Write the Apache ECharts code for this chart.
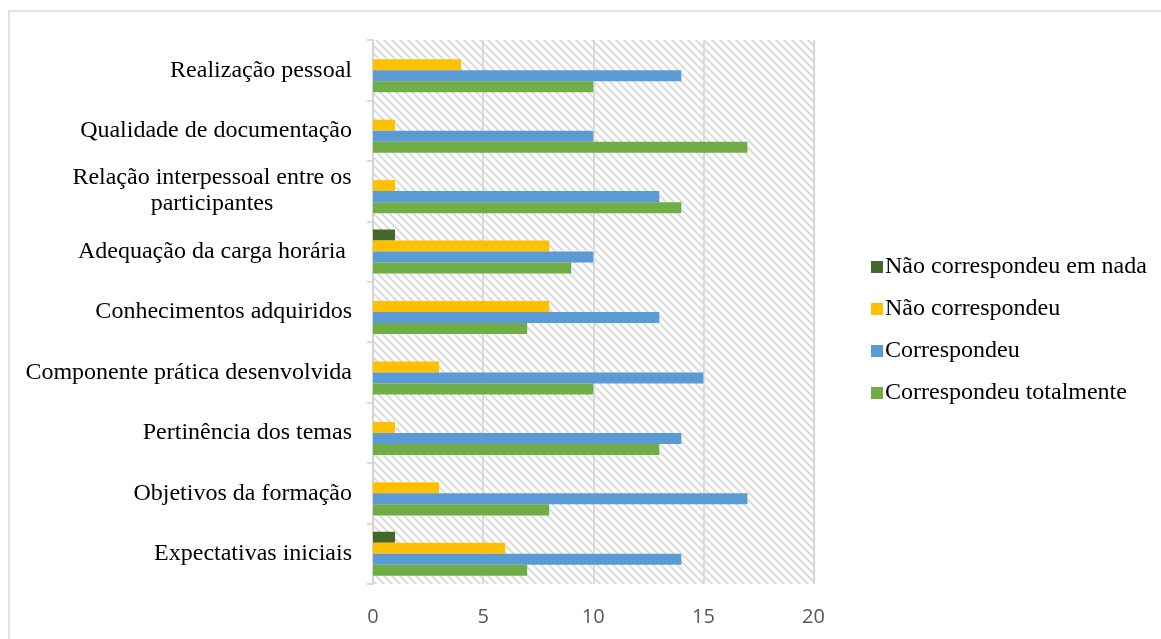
<!DOCTYPE html>
<html>
<head>
<meta charset="utf-8">
<script src="https://cdn.jsdelivr.net/npm/echarts@6/dist/echarts.min.js"></script>
<style>
  html, body { margin: 0; padding: 0; background: #fff; }
  #chart { width: 1161px; height: 639px; }
</style>
</head>
<body>
<div id="chart"></div>
<script>
// Categories listed bottom to top along the vertical axis
const categories = [
  'Expectativas iniciais',
  'Objetivos da formação',
  'Pertinência dos temas',
  'Componente prática desenvolvida',
  'Conhecimentos adquiridos',
  'Adequação da carga horária ',
  'Relação interpessoal entre os\nparticipantes',
  'Qualidade de documentação',
  'Realização pessoal'
];

const seriesNames = [
  'Não correspondeu em nada',
  'Não correspondeu',
  'Correspondeu',
  'Correspondeu totalmente'
];

const naoCorrespondeuEmNada = [1, 0, 0, 0, 0, 1, 0, 0, 0];
const naoCorrespondeu       = [6, 3, 1, 3, 8, 8, 1, 1, 4];
const correspondeu          = [14, 17, 14, 15, 13, 10, 13, 10, 14];
const correspondeuTotalmente = [7, 8, 13, 10, 7, 9, 14, 17, 10];

const xTicks = { min: 0, max: 20, interval: 5 };

const colors = ['#43682b', '#ffc000', '#5b9bd5', '#70ad47'];
const serif = '"Liberation Serif", "Times New Roman", serif';
const labelSize = 24;

// Light downward-diagonal hatch for the plot background
function hatchPattern() {
  const c = document.createElement('canvas');
  c.width = 8; c.height = 8;
  const g = c.getContext('2d');
  g.fillStyle = '#ffffff';
  g.fillRect(0, 0, 8, 8);
  g.strokeStyle = '#dcdcdc';
  g.lineWidth = 2;
  g.beginPath();
  g.moveTo(-2, -2); g.lineTo(10, 10);
  g.moveTo(-2, 6); g.lineTo(2, 10);
  g.moveTo(6, -2); g.lineTo(10, 2);
  g.stroke();
  return c;
}

// Width of the widest line of a multi-line label, so wrapped lines centre on it
function measure(text) {
  const g = document.createElement('canvas').getContext('2d');
  g.font = labelSize + 'px ' + serif;
  return Math.ceil(g.measureText(text).width);
}

const chart = echarts.init(document.getElementById('chart'), null, { renderer: 'canvas' });

const values = [naoCorrespondeuEmNada, naoCorrespondeu, correspondeu, correspondeuTotalmente];

chart.setOption({
  backgroundColor: '#ffffff',
  animation: false,
  graphic: [{
    type: 'rect',
    shape: { x: 9, y: 11, width: 1300, height: 800 },
    style: { fill: 'none', stroke: '#d9d9d9', lineWidth: 1.5 },
    silent: true,
    z: -10
  }],
  grid: {
    left: 373, right: 347.5, top: 40, bottom: 55,
    show: true,
    borderWidth: 0,
    backgroundColor: { image: hatchPattern(), repeat: 'repeat' }
  },
  legend: {
    orient: 'vertical',
    left: 866, top: 250,
    icon: 'rect',
    itemWidth: 12, itemHeight: 12, itemGap: 18,
    data: seriesNames,
    textStyle: { fontFamily: serif, fontSize: labelSize, color: '#000', padding: [0, 0, 0, -3] }
  },
  xAxis: {
    type: 'value',
    min: xTicks.min, max: xTicks.max, interval: xTicks.interval,
    axisLine: { show: false },
    axisTick: { show: false },
    splitLine: { show: true, lineStyle: { color: '#d9d9d9', width: 2 } },
    axisLabel: { fontFamily: '"Open Sans", sans-serif', fontSize: 20, color: '#595959', margin: 23 }
  },
  yAxis: {
    type: 'category',
    data: categories,
    axisLine: { show: true, lineStyle: { color: '#d0d0d0', width: 1.5 } },
    axisTick: { show: true, length: 6, lineStyle: { color: '#d0d0d0', width: 1.5 } },
    axisLabel: {
      margin: 21,
      fontFamily: serif,
      fontSize: labelSize,
      color: '#000',
      formatter: function (v) {
        if (v.indexOf('\n') < 0) return v;
        const lines = v.split('\n');
        return lines.map(l => '{c|' + l + '}').join('\n');
      },
      rich: {
        c: {
          fontFamily: serif, fontSize: labelSize, color: '#000',
          lineHeight: 26, align: 'center',
          width: measure('Relação interpessoal entre os')
        }
      }
    }
  },
  series: seriesNames.map((name, i) => ({
    name: name,
    type: 'bar',
    data: values[i],
    barGap: '0%',
    barCategoryGap: '27%',
    itemStyle: { color: colors[i] }
  }))
});
</script>
</body>
</html>
